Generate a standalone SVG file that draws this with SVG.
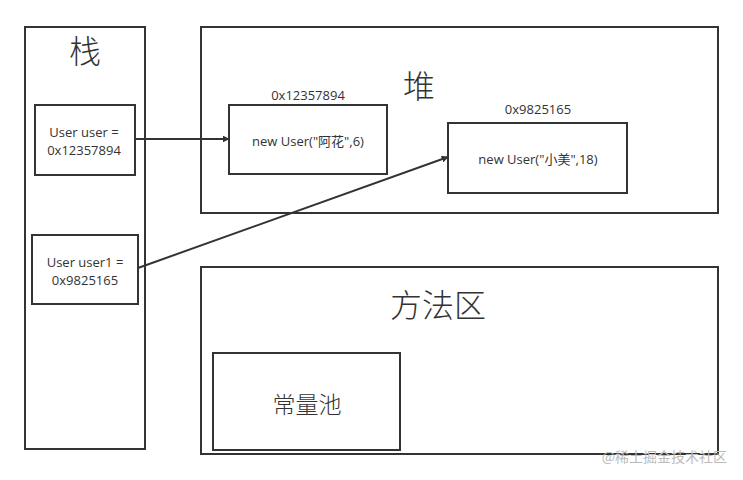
<svg xmlns="http://www.w3.org/2000/svg" width="743" height="480" viewBox="0 0 743 480">
<defs>
<style>
.box{fill:#fff;stroke:#333;stroke-width:2}
.t{font-family:"Open Sans","Noto Sans CJK SC",sans-serif;fill:#333;text-anchor:middle}
.s{font-size:13px}
.b{font-size:32px;font-family:"Noto Sans CJK SC",sans-serif;font-weight:300}
.c{stroke:#333;stroke-width:2;fill:none}
</style>
<marker id="arr" viewBox="0 0 10 10" refX="9" refY="5" markerWidth="7" markerHeight="7" markerUnits="userSpaceOnUse" orient="auto">
<path d="M0,0 L10,5 L0,10 z" fill="#333"/>
</marker>
</defs>
<rect width="743" height="480" fill="#fff"/>
<g id="stack">
<rect class="box" x="25" y="27" width="120" height="422"/>
<text class="t b" x="85" y="63">栈</text>
</g>
<g id="heap">
<rect class="box" x="201" y="27" width="517" height="186"/>
<text class="t b" x="419" y="98">堆</text>
</g>
<g id="method">
<rect class="box" x="201" y="267" width="517" height="187"/>
<text class="t b" x="438" y="317">方法区</text>
</g>
<g id="user">
<rect class="box" x="35" y="105" width="100" height="70"/>
<text class="t s" x="84" y="137">User user =</text>
<text class="t s" x="84" y="155">0x12357894</text>
</g>
<g id="user1">
<rect class="box" x="32" y="235" width="106" height="69"/>
<text class="t s" x="85" y="267">User user1 =</text>
<text class="t s" x="85" y="285">0x9825165</text>
</g>
<g id="obj1">
<text class="t s" x="308" y="100">0x12357894</text>
<rect class="box" x="229" y="105" width="158" height="69"/>
<text class="t s" x="308" y="146">new User("阿花",6)</text>
</g>
<g id="obj2">
<text class="t s" x="538" y="114">0x9825165</text>
<rect class="box" x="448" y="123" width="179" height="70"/>
<text class="t s" x="538" y="164">new User("小美",18)</text>
</g>
<g id="pool">
<rect class="box" x="213" y="353" width="187" height="97"/>
<text class="t" style="font-size:23px;font-family:'Noto Sans CJK SC',sans-serif;font-weight:300" x="307" y="413">常量池</text>
</g>
<g id="connectors">
<line class="c" x1="135" y1="139" x2="229" y2="139" marker-end="url(#arr)"/>
<line class="c" x1="138" y1="268" x2="448" y2="157" marker-end="url(#arr)"/>
</g>
<text x="727" y="462" style="font-family:'Noto Sans CJK SC',sans-serif;font-size:14px;fill:#bbb;text-anchor:end">@稀土掘金技术社区</text>
</svg>
